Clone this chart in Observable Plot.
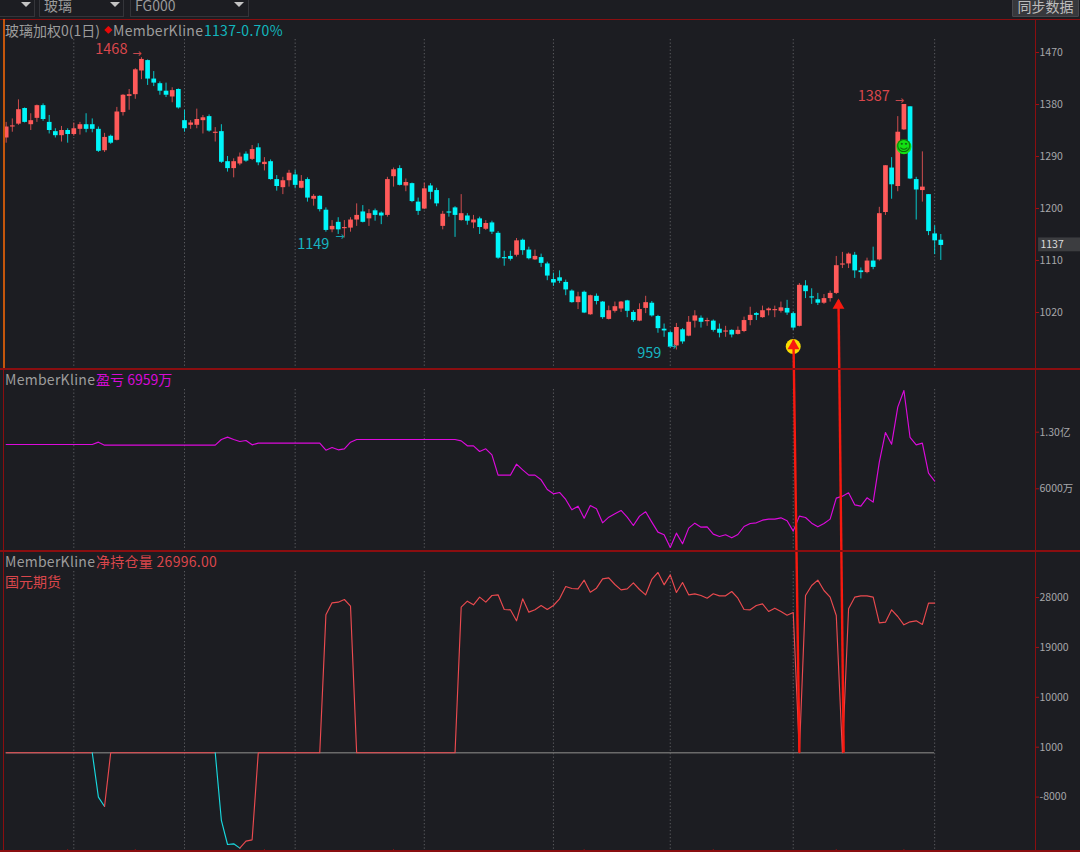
<!DOCTYPE html>
<html lang="zh">
<head>
<meta charset="utf-8">
<script src="https://cdn.jsdelivr.net/npm/d3@7"></script>
<script src="https://cdn.jsdelivr.net/npm/@observablehq/plot@0.6"></script>
<style>
html,body{margin:0;padding:0;background:#1c1d22;width:1080px;height:852px;overflow:hidden}
#root{position:relative;width:1080px;height:852px;overflow:hidden;background:#1c1d22;font-family:"Noto Sans CJK SC","Noto Sans",sans-serif;font-size:14px}
.pane{position:absolute;left:0;width:1080px}
.pane svg{display:block;background:transparent;overflow:visible}
.hl{position:absolute;left:0;width:1080px;height:1px;background:#8a0e10}
.vl{position:absolute;width:1px;background:#8a0e10}
.tx{position:absolute;white-space:nowrap;line-height:18px;height:18px}
.box{position:absolute;top:-2px;height:17px;border:1px solid #34353a;color:#9a9a9a;line-height:12px;padding-left:4px;overflow:hidden}
.tri{position:absolute;top:2px;width:0;height:0;border-left:5px solid transparent;border-right:5px solid transparent;border-top:5px solid #c4c4c4}
.btn{position:absolute;left:1012px;top:-2px;width:65px;height:17px;background:#37383c;border:1px solid #47484c;color:#bdbdbd;text-align:center;line-height:15px;border-radius:1px}
</style>
</head>
<body>
<div id="root"></div>
<script>
const opens = [1322,1341,1346,1373,1345,1356,1378,1349,1333,1326,
1335,1328,1337,1345,1345,1337,1300,1325,1318,1366,
1394,1397,1438,1456,1424,1416,1403,1393,1406,1352,
1344,1344,1352,1359,1330,1333,1281,1269,1277,1294,
1285,1305,1276,1281,1250,1236,1248,1258,1235,1250,
1216,1221,1197,1163,1176,1165,1166,1180,1194,1182,
1196,1192,1188,1255,1269,1239,1243,1211,1199,1239,
1231,1169,1194,1201,1179,1187,1175,1182,1164,1175,
1157,1115,1117,1119,1145,1128,1111,1115,1104,1077,
1080,1072,1057,1037,1055,1016,1048,1038,1008,1022,
1026,1040,1020,1005,1027,1036,1013,991,985,962,
990,979,1005,1010,1004,1005,991,986,989,982,
987,1006,1018,1011,1023,1023,1022,1027,1018,996,
1066,1047,1042,1036,1044,1053,1102,1104,1119,1092,
1089,1109,1111,1193,1270,1238,1336,1376,1250,1231,
1224,1156,1145];
const closes = [1341,1343,1371,1349,1352,1378,1354,1335,1326,1335,
1328,1338,1345,1337,1337,1299,1323,1313,1367,1396,
1397,1440,1458,1424,1417,1403,1396,1404,1374,1338,
1348,1354,1357,1334,1332,1280,1269,1281,1289,1282,
1302,1279,1280,1250,1238,1248,1261,1240,1247,1218,
1221,1198,1162,1169,1163,1167,1180,1188,1176,1191,
1188,1187,1250,1267,1240,1245,1212,1195,1234,1228,
1208,1190,1192,1188,1191,1178,1180,1167,1174,1159,
1114,1113,1112,1144,1127,1113,1117,1105,1083,1071,
1074,1059,1037,1047,1019,1049,1039,1011,1023,1030,
1038,1022,1006,1025,1037,1014,992,988,960,994,
969,1003,1014,1003,1006,989,984,988,981,989,
1006,1015,1015,1023,1026,1025,1028,1019,993,1067,
1056,1045,1036,1044,1053,1101,1104,1121,1092,1089,
1109,1098,1191,1274,1241,1332,1380,1251,1232,1237,
1160,1144,1136];
const highs = [1349,1355,1388,1374,1364,1379,1381,1361,1338,1342,
1338,1348,1349,1364,1355,1341,1330,1327,1375,1397,
1406,1442,1461,1457,1437,1419,1417,1409,1407,1370,
1352,1372,1361,1362,1340,1345,1290,1286,1296,1298,
1309,1312,1288,1284,1257,1254,1266,1266,1257,1253,
1224,1222,1201,1179,1184,1179,1184,1208,1205,1198,
1199,1194,1254,1270,1274,1251,1244,1218,1244,1243,
1235,1195,1217,1203,1224,1191,1188,1185,1179,1178,
1160,1126,1126,1148,1147,1133,1128,1121,1107,1088,
1092,1076,1059,1055,1057,1050,1052,1039,1031,1038,
1039,1041,1023,1035,1048,1039,1015,1000,987,1001,
992,1013,1023,1014,1010,1007,1000,996,990,995,
1012,1029,1020,1031,1028,1031,1038,1041,1021,1070,
1075,1061,1053,1051,1057,1117,1124,1123,1124,1097,
1114,1133,1202,1274,1288,1359,1380,1376,1254,1298,
1224,1170,1155];
const lows = [1313,1332,1344,1348,1335,1349,1351,1329,1322,1315,
1313,1325,1327,1331,1331,1297,1297,1311,1317,1360,
1370,1389,1423,1413,1411,1396,1392,1383,1372,1332,
1337,1338,1329,1332,1315,1278,1263,1253,1274,1280,
1283,1274,1265,1249,1230,1224,1237,1234,1234,1211,
1204,1194,1159,1158,1155,1149,1159,1169,1175,1169,
1178,1172,1185,1237,1239,1229,1210,1188,1198,1215,
1203,1163,1185,1150,1178,1171,1165,1155,1162,1155,
1112,1100,1109,1116,1119,1111,1110,1098,1075,1065,
1070,1049,1036,1025,1018,1015,1033,1008,1007,1019,
1020,1011,1003,1004,1018,1012,984,977,958,955,
965,978,993,993,996,986,976,977,976,981,
985,997,1006,1010,1014,1011,1019,1015,989,995,
1044,1034,1032,1034,1038,1051,1096,1096,1079,1078,
1087,1094,1109,1188,1216,1229,1335,1250,1180,1211,
1153,1120,1110];
// 盈亏, 万
const pnlValues = [11479,11479,11479,11479,11479,11479,11479,11479,11479,11479,
11479,11479,11479,11479,11479,11768,11397,11397,11397,11397,
11397,11397,11397,11397,11397,11397,11397,11397,11397,11397,
11397,11397,11397,11397,11397,12098,12387,12098,11851,11974,
11438,11644,11644,11644,11644,11644,11644,11644,11644,11644,
11644,11644,10779,11108,10820,10943,11768,12098,12098,12098,
12098,12098,12098,12098,12098,12098,12098,12098,12098,12098,
12098,12098,12098,12098,11933,11315,11315,10614,10943,10201,
7686,7686,7686,9047,8346,7686,7686,7109,5913,5378,
5542,4677,3398,3852,2368,3934,3522,1790,2491,2904,
3316,2491,1461,2615,3151,1873,636,306,-1260,512,
-807,1130,1749,1254,1295,388,100,306,-65,347,
1337,1708,1790,2120,2244,2244,2409,2038,760,2615,
2450,1749,1295,1708,2244,4841,5089,5501,4017,3852,
4883,4347,9294,12964,11521,16097,18159,12345,11438,11644,
7934,6959];
// 净持仓量
const netValues = [0,0,0,0,0,0,0,0,0,0,
0,0,0,0,0,-8011,-9695,0,0,0,
0,0,0,0,0,0,0,0,0,0,
0,0,0,0,0,-12220,-16550,-16430,-17212,-15950,
-15709,0,0,0,0,0,0,0,0,0,
0,0,24880,27045,27165,27646,26443,0,0,0,
0,0,0,0,0,0,0,0,0,0,
0,0,0,0,26263,27345,26684,28067,27165,28367,
28488,25842,25782,23798,27766,25361,25782,26564,25842,26564,
27766,29991,29630,29570,31133,28969,29690,31374,31554,30352,
29390,29570,30652,29450,28488,31254,32516,30292,32096,28909,
30712,28488,28668,28367,27887,28668,28307,28307,29089,27887,
25842,25782,26564,26864,25481,26082,25481,24820,25301,0,
28367,30171,31133,29270,28067,24760,0,25962,28067,28307,
28307,28067,23437,23557,25782,24579,23076,23617,23798,23136,
26984,26996];
const netFallingLegs = [14,15,34,35,36,37]; // bars whose outgoing segment is drawn cyan

const gridBars = [11,29,47,68,89,108,128,151];
const weekTickBars = [10,21,42,63,94,115,135,146];
const priceTicks = [1470,1380,1290,1200,1110,1020];
const pnlTicks = [13000,6000];
const pnlTickLabels = ["1.30亿","6000万"];
const netTicks = [28000,19000,10000,1000,-8000];

const highBars   = [22,146];
const highValues = [1468,1387];
const lowBars    = [55,109];
const lowValues  = [1149,959];
const lastPrice = 1137;

const signalBars   = [128,146];
const signalPrices = [961,1307];

const arrowTipBars   = [128.04,135.36];
const arrowTipPrices = [971,1041];
const arrowEndBars   = [129,136.2];
const arrowEndPrices = [258,258];

const RED="#ff5a5a", CYAN="#00f6fa", GRID="#5b5c60", AXIS="#8a0e10", TICKTXT="#a6a7aa";
const FONT='"Noto Sans CJK SC","Noto Sans",sans-serif';
const XDOM=[-0.922,167.4];

const candles = opens.map((o,i)=>({i,open:o,close:closes[i],high:highs[i],low:lows[i],color:closes[i]>=o?RED:CYAN}));
const pnl = pnlValues.map((v,i)=>({i,v}));
const net = netValues.map((v,i)=>({i,v,color:netFallingLegs.includes(i)?"#18d8de":"#ea4a4f"}));
const highMarks = highBars.map((i,k)=>({i,v:highValues[k]}));
const lowMarks = lowBars.map((i,k)=>({i,v:lowValues[k]}));
const signals = signalBars.map((i,k)=>({i,p:signalPrices[k]}));
const arrows = arrowTipBars.map((b,k)=>({x1:arrowEndBars[k],y1:arrowEndPrices[k],x2:b,y2:arrowTipPrices[k]}));

const root=document.getElementById("root");
function add(el,top,h){const d=document.createElement("div");d.className="pane";d.style.top=top+"px";d.style.height=h+"px";d.appendChild(el);root.appendChild(d);}
function base(height,marginTop,domain,ticks,fmt,marks){
  return Plot.plot({
    width:1080,height,marginLeft:0,marginRight:45,marginTop,marginBottom:0,
    x:{domain:XDOM,axis:null},
    y:{domain,axis:null},
    color:{type:"identity"},
    style:{background:"transparent",fontFamily:FONT,fontSize:"10.5px",overflow:"visible"},
    marks:[
      Plot.ruleX(gridBars,{x:d=>d,stroke:GRID,strokeWidth:1,strokeDasharray:"1.3,2.2"}),
      Plot.axisY({anchor:"right",ticks,tickSize:3,tickPadding:1,stroke:"#a01214",fill:TICKTXT,tickFormat:fmt,label:null,fontSize:10.5}),
      ...marks
    ]
  });
}

// candlestick pane
add(base(349,20,[923,1492.5],priceTicks,d=>String(d),[
  Plot.ruleX(candles,{x:"i",y1:"low",y2:"high",stroke:"color",strokeWidth:1,strokeOpacity:0.78}),
  Plot.ruleX(candles,{x:"i",y1:"open",y2:"close",stroke:"color",strokeWidth:4.7}),
  Plot.text(highMarks,{x:"i",y:"v",text:d=>String(d.v),textAnchor:"end",dx:-14,dy:-4,fill:"#d9474c",fontSize:14.5}),
  Plot.text(lowMarks,{x:"i",y:"v",text:d=>String(d.v),textAnchor:"end",dx:-15,dy:6,fill:"#17b4c0",fontSize:14.5}),
  Plot.text(highMarks,{x:"i",y:"v",text:()=>"→",textAnchor:"end",dx:0,dy:0,fill:"#c8484c",fontSize:11,fontFamily:"DejaVu Sans"}),
  Plot.text(lowMarks,{x:"i",y:"v",text:()=>"→",textAnchor:"end",dx:0,dy:-1,fill:"#17a4b0",fontSize:11,fontFamily:"DejaVu Sans"}),
  Plot.dot(signals,{x:"i",y:"p",r:7.5,fill:(d,k)=>k===0?"#f7dc00":"#14e014"}),
  Plot.text(signals.slice(1),{x:"i",y:"p",text:()=>"☺",fill:"#0c6a0c",fontSize:15,fontFamily:"DejaVu Sans"}),
  Plot.rect([lastPrice],{x1:()=>167.9,x2:()=>175,y1:d=>d-12,y2:d=>d+12,fill:"#3c3d40"}),
  Plot.text([lastPrice],{x:()=>168.2,y:d=>d,text:d=>String(d),textAnchor:"start",fill:"#dcdcdc",fontSize:10.5})
]),19,349);

// 盈亏 pane
add(base(181,20,[-1634,18282],pnlTicks,d=>pnlTickLabels[pnlTicks.indexOf(d)],[
  Plot.line(pnl,{x:"i",y:"v",stroke:"#dc0adc",strokeWidth:1.15})
]),369,181);

// 净持仓量 pane
add(base(301,20,[-17996,32696],netTicks,d=>String(d),[
  Plot.ruleY([0],{x1:()=>0,x2:()=>151,stroke:"#6a6a6a",strokeWidth:1.4}),
  Plot.line(net,{x:"i",y:"v",stroke:"color",z:null,strokeWidth:1.15}),
  Plot.ruleX(weekTickBars,{x:d=>d,y1:()=>-17996,y2:()=>-17500,stroke:"#a01214",strokeWidth:1})
]),551,301);

// annotation arrows across panes (price scale carried on downward)
add(Plot.plot({
  width:1080,height:852,marginLeft:0,marginRight:45,marginTop:0,marginBottom:0,
  x:{domain:XDOM,axis:null},y:{domain:[85.4,1560],axis:null},
  style:{background:"transparent",overflow:"visible"},
  marks:[
    Plot.link(arrows,{x1:"x1",y1:"y1",x2:"x2",y2:"y2",stroke:"#f8190f",strokeWidth:2.4}),
    Plot.dot(arrows,{x:"x2",y:"y2",dy:5,symbol:"triangle",r:4.4,fill:"#f8190f"})
  ]
}),0,852);

// chrome
function tx(text,left,top,color,extra){const s=document.createElement("span");s.className="tx";s.textContent=text;s.style.left=left+"px";s.style.top=top+"px";s.style.color=color;if(extra)Object.assign(s.style,extra);root.appendChild(s);return s;}
function hl(top){const d=document.createElement("div");d.className="hl";d.style.top=top+"px";root.appendChild(d);}
function vl(left,top,h,c,w){const d=document.createElement("div");d.className="vl";d.style.left=left+"px";d.style.top=top+"px";d.style.height=h+"px";if(c)d.style.background=c;if(w)d.style.width=w+"px";root.appendChild(d);}
hl(19);hl(368);hl(550);hl(850);
document.querySelectorAll(".hl").forEach((d,k)=>{d.style.height=k?"1.5px":"1px";});
vl(1035,19,833);
vl(3,19,349,"#c4560c",2);
vl(3,369,483);

function box(left,w,text,triLeft){const b=document.createElement("div");b.className="box";b.style.left=left+"px";b.style.width=(w-6)+"px";b.textContent=text;root.appendChild(b);
  const t=document.createElement("div");t.className="tri";t.style.left=triLeft+"px";root.appendChild(t);}
box(-5,40,"",21);
box(39,85,"玻璃",110);
box(130,119,"FG000",234);
const btn=document.createElement("div");btn.className="btn";btn.textContent="同步数据";root.appendChild(btn);

const LS={letterSpacing:"0.28px"};
tx("玻璃加权0(1日)",5,21,"#9c9c9c");
tx("◆",104,21,"#e80808",{fontSize:"8px"});
tx("MemberKline",113,21,"#9c9c9c",LS);
tx("1137-0.70%",204,21,"#12b6bd",LS);
tx("MemberKline",5,370,"#9c9c9c",LS);
tx("盈亏 6959万",96,370,"#d70ad7");
tx("MemberKline",5,552,"#9c9c9c",LS);
tx("净持仓量 26996.00",96,552,"#d9464b",LS);
tx("国元期货",5,572,"#d9464b");
</script>
</body>
</html>
